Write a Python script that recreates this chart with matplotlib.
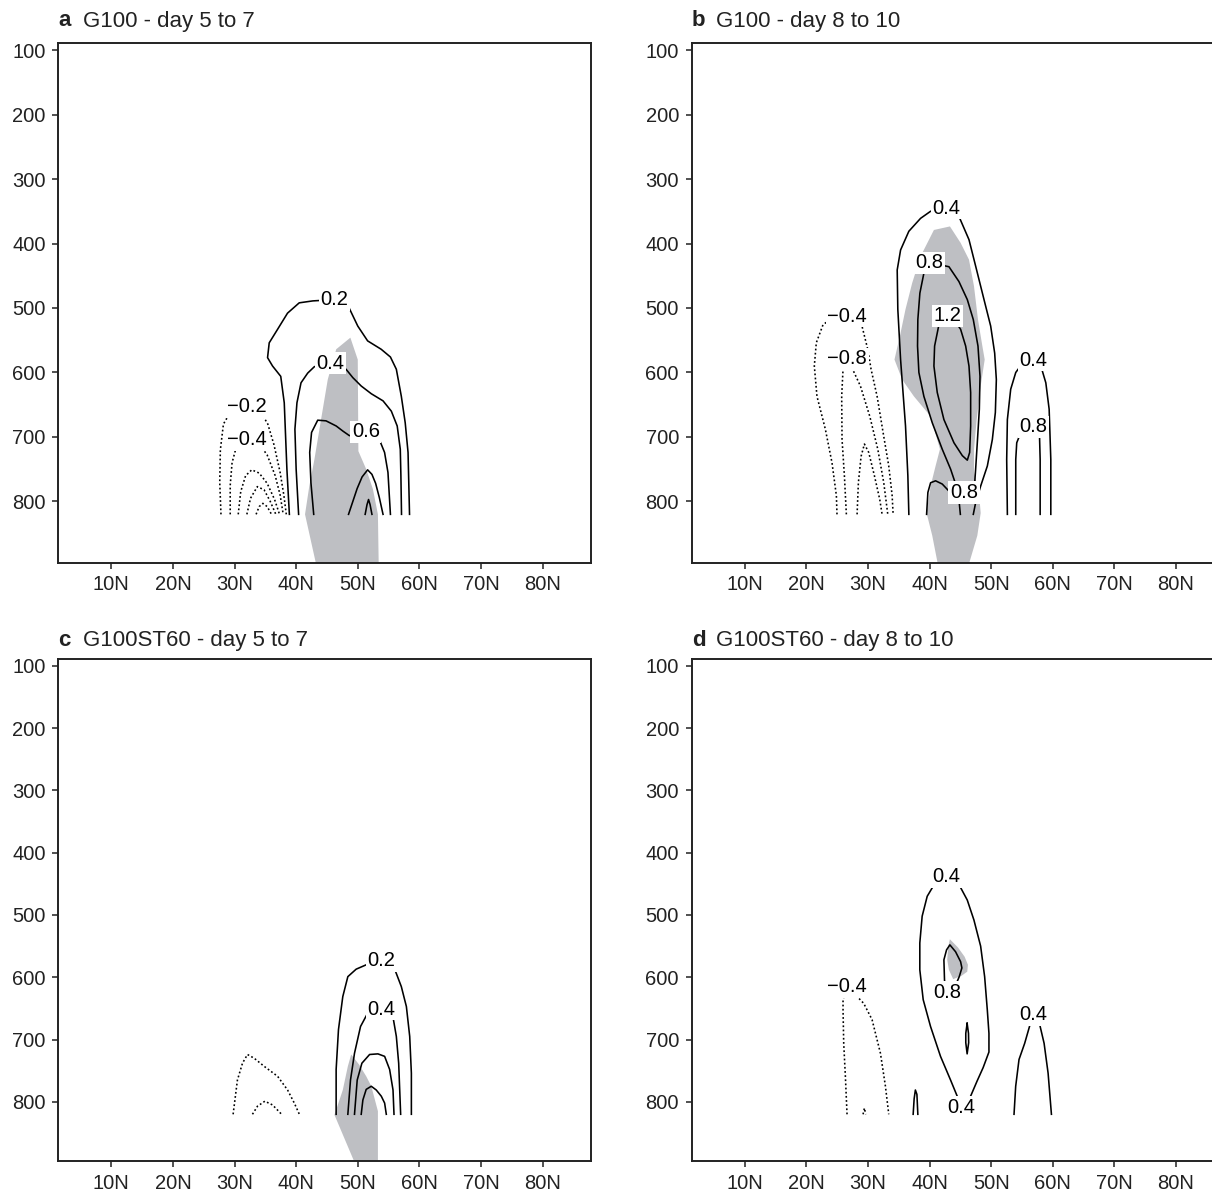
import matplotlib
matplotlib.use("Agg")
import matplotlib.pyplot as plt

plt.rcParams['font.family'] = ['Liberation Sans', 'DejaVu Sans']

# ---------------- common axes data ----------------
LAT_TICKS = [10, 20, 30, 40, 50, 60, 70, 80]
LAT_LABELS = ['10N', '20N', '30N', '40N', '50N', '60N', '70N', '80N']
P_TICKS = [100, 200, 300, 400, 500, 600, 700, 800]
XLIM = (1.4, 87.9)
YLIM = (895, 89.5)
M = '\u2212'

# ---------------- panel a : G100 day 5 to 7 ----------------
A_TITLE = ('a', 'G100 - day 5 to 7')
A_SHADE_LAT = [48.8, 46.5, 45.13, 44.04, 42.96, 42.14, 41.44, 43.3, 53.4, 53.27, 52.46, 51.37, 50.1, 50.0]
A_SHADE_P = [546, 564, 611, 673, 735, 776, 820, 900, 900, 820, 781, 750, 722, 580]
A_LINES = [
    (0.2, [38.9, 38.5, 38.07, 37.5, 36.17, 35.36, 35.63, 36.99, 38.6, 40.5, 42.7, 46.2, 48.6, 50.0,
           51.6, 53.8, 55.3, 56.26, 57.07, 57.7, 58.16, 58.4],
          [820, 750, 647, 606, 590, 577, 554, 533, 508, 492, 489, 487, 500, 528,
           551, 564, 576, 595, 637, 678, 724, 820]),
    (0.4, [40.4, 40.0, 39.8, 40.13, 40.79, 41.87, 42.96, 45.6, 48.1, 49.2, 50.56, 52.2, 54.1, 55.45,
           56.4, 56.9, 57.0, 57.1],
          [820, 750, 688, 647, 616, 601, 591, 585.5, 595, 608, 621, 633, 644, 660,
           683, 719, 760, 820]),
    (0.6, [42.85, 42.4, 42.2, 42.5, 43.5, 44.85, 46.5, 47.6, 48.65, 51.3, 53.5, 54.35, 54.9, 55.3],
          [820, 771, 724, 693, 674, 675, 683, 691, 698, 692, 704, 724, 755, 820]),
    (0.8, [48.5, 49.2, 49.9, 50.7, 51.6, 52.3, 52.9, 53.5, 54.1],
          [820, 800, 780, 762, 751, 758, 772, 794, 820]),
    (1.0, [51.2, 51.5, 51.75, 52.0, 52.3],
          [820, 805, 797, 805, 820]),
    (-0.2, [27.8, 27.6, 27.7, 28.2, 29.3, 31.94, 34.3, 35.4, 36.4, 37.4, 38.0, 38.4],
           [820, 770, 720, 680, 662, 653, 662, 680, 712, 755, 790, 820]),
    (-0.4, [29.3, 29.3, 29.6, 30.3, 31.94, 33.8, 35.3, 36.6, 37.4, 37.9],
           [820, 775, 740, 715, 704, 708, 728, 760, 790, 820]),
    (-0.6, [30.6, 31.0, 31.8, 32.8, 34.0, 35.3, 36.5, 37.3],
           [820, 785, 760, 751, 756, 772, 797, 820]),
    (-0.8, [32.0, 32.6, 33.7, 34.8, 35.8, 36.7],
           [820, 795, 777, 782, 800, 820]),
    (-1.0, [33.5, 34.0, 34.6, 35.3, 36.0],
           [820, 808, 803, 808, 820]),
]
A_LABELS = [('0.2', 46.2, 487), ('0.4', 45.6, 585.5), ('0.6', 51.3, 692),
            (M + '0.2', 31.94, 653), (M + '0.4', 31.94, 704)]

# ---------------- panel b : G100 day 8 to 10 ----------------
B_TITLE = ('b', 'G100 - day 8 to 10')
B_SHADE_LAT = [40.71, 43.31, 45.04, 46.4, 47.21, 47.86, 48.57, 48.95, 48.3, 47.65, 47.21, 47.21, 48.02,
               48.3, 47.75, 46.3, 41.4, 40.44, 39.52, 40.17, 40.98, 41.69, 40.17, 37.46, 35.56, 34.31,
               35.29, 36.1, 37.19, 38.54]
B_SHADE_P = [379, 373.5, 399, 425, 466, 518, 559, 580, 621, 673, 719, 755, 786,
             818, 853, 900, 900, 853, 818, 776, 745, 719, 668, 637, 611, 580,
             539, 502, 461, 420]
B_LINES = [
    (0.4, [36.64, 36.48, 36.1, 35.3, 34.85, 34.75, 35.3, 36.64, 38.54, 40.17, 42.7, 44.77, 46.4, 47.48,
           48.84, 49.92, 50.57, 50.84, 50.68, 50.19, 49.38, 48.3, 47.48, 47.1],
          [820, 760, 683, 580, 502, 441, 410, 381, 361, 350, 345, 358, 394, 435,
           487, 528, 570, 611, 662, 704, 745, 776, 802, 820]),
    (0.8, [40.17, 43.15, 44.77, 46.13, 47.1, 47.86, 48.19, 48.08, 47.75, 47.48, 47.3, 46.7, 45.8, 45.0,
           44.23, 43.42, 42.06, 40.44, 39.08, 38.27, 38.05, 38.1, 38.43, 39.08, 40.17],
          [430, 436, 459, 487, 518, 559, 606, 657, 709, 750, 775, 788, 793, 788,
           773, 750, 719, 678, 637, 600, 559, 518, 477, 446, 430]),
    (1.2, [42.85, 41.52, 40.82, 40.71, 41.25, 42.33, 43.96, 45.32, 46.13, 46.51, 46.67, 46.67, 46.4,
           45.86, 45.04, 43.96, 42.85],
          [512, 526, 559, 590, 631, 673, 709, 729, 736, 724, 683, 631, 590,
           559, 533, 518, 512]),
    (0.8, [39.52, 39.73, 40.17, 40.98, 42.06, 43.15, 44.3, 44.8, 45.0],
          [820, 786, 771, 768, 773, 784, 790, 800, 820]),
    (0.4, [52.63, 52.52, 52.63, 53.17, 53.99, 55.07, 56.85, 58.16, 58.87, 59.41, 59.68, 59.68],
          [820, 735, 673, 626, 600, 586, 581, 593, 616, 657, 735, 820]),
    (0.8, [53.99, 53.99, 54.15, 54.69, 56.85, 57.84, 57.95, 57.95],
          [820, 735, 709, 696, 684, 696, 735, 820]),
    (-0.4, [24.98, 24.88, 24.17, 23.09, 21.73, 21.3, 21.62, 22.71, 24.44, 26.61, 28.78, 29.32, 29.97,
            30.51, 31.49, 32.46, 33.38, 33.93, 34.09],
           [820, 791, 740, 688, 637, 590, 554, 526, 514, 513, 518, 539, 564,
            595, 637, 693, 745, 791, 820]),
    (-0.8, [26.5, 26.18, 25.8, 25.74, 25.96, 26.61, 27.42, 28.78, 30.3, 31.6, 32.57, 33.22],
           [820, 760, 704, 637, 595, 579, 593, 621, 668, 719, 771, 820]),
    (-1.2, [28.24, 28.45, 28.89, 29.43, 30.13, 31.05, 31.92, 32.3],
           [820, 771, 730, 711, 724, 760, 797, 820]),
]
B_LABELS = [('0.4', 42.7, 345), ('0.8', 40.0, 430), ('1.2', 42.85, 512), ('0.8', 45.6, 786),
            ('0.4', 56.85, 581), ('0.8', 56.85, 684),
            (M + '0.4', 26.61, 513), (M + '0.8', 26.61, 579)]

# ---------------- panel c : G100ST60 day 5 to 7 ----------------
C_TITLE = ('c', 'G100ST60 - day 5 to 7')
C_SHADE_LAT = [48.93, 50.2, 51.37, 52.2, 53.27, 53.27, 49.6, 46.22, 47.57, 48.39]
C_SHADE_P = [724, 740, 759, 775, 815, 900, 900, 821, 781, 743]
C_LINES = [
    (0.2, [46.49, 46.49, 46.87, 47.57, 48.39, 49.74, 51.37, 53.82, 55.99, 57.07, 57.89, 58.43, 58.7, 58.7],
          [820, 748, 684, 631, 599, 587, 580, 573, 587, 615, 647, 695, 754, 820]),
    (0.4, [48.39, 48.82, 49.47, 50.45, 51.48, 53.82, 55.72, 56.26, 56.64, 56.96],
          [820, 765, 722, 679, 660, 651, 664, 695, 738, 820]),
    (0.6, [49.47, 49.91, 50.67, 51.92, 53.27, 54.36, 55.17, 55.72, 55.88],
          [820, 765, 738, 724, 723, 727, 748, 781, 820]),
    (0.8, [50.56, 50.83, 51.37, 52.19, 53.0, 53.82, 54.36, 54.63],
          [820, 797, 780, 775, 781, 791, 802, 820]),
    (-0.2, [29.77, 30.47, 31.29, 32.1, 33.19, 34.81, 36.99, 38.61, 39.7, 40.52],
           [820, 765, 738, 724, 730, 743, 759, 781, 802, 820]),
    (-0.4, [32.91, 33.73, 34.92, 36.17, 37.64],
           [820, 807, 799, 805, 820]),
]
C_LABELS = [('0.2', 53.82, 573), ('0.4', 53.82, 651)]

# ---------------- panel d : G100ST60 day 8 to 10 ----------------
D_TITLE = ('d', 'G100ST60 - day 8 to 10')
D_SHADE_LAT = [43.3, 44.6, 45.69, 46.23, 46.12, 45.14, 43.84, 43.14, 42.87, 43.03]
D_SHADE_P = [539, 552, 567, 580, 591, 598, 603, 588, 572, 551]
D_LINES = [
    (0.4, [42.71, 44.93, 46.12, 47.2, 48.29, 48.94, 49.37, 49.64, 49.64, 48.7, 47.7, 46.66, 45.2,
           44.49, 43.41, 41.78, 40.16, 38.97, 38.42, 38.42, 38.8, 39.62, 40.7, 42.71],
          [439, 454, 476, 508, 550, 599, 652, 690, 720, 745, 767, 791, 809,
           791, 765, 727, 679, 636, 588, 545, 502, 470, 452, 439]),
    (0.8, [42.87, 42.43, 42.33, 42.76, 43.3, 44.22, 45.04, 45.25, 44.82, 44.39, 42.87],
          [624, 605, 572, 556, 548, 559, 575, 585, 599, 609, 624]),
    (0.8, [46.1, 46.32, 46.35, 46.1, 45.88, 45.88, 46.1],
          [674, 690, 705, 723, 705, 690, 674]),
    (0.4, [37.34, 37.5, 37.7, 37.95, 38.1],
          [820, 795, 781, 788, 820]),
    (0.4, [53.71, 53.98, 54.52, 55.44, 56.31, 56.85, 57.83, 58.59, 59.24, 59.78],
          [820, 775, 732, 706, 676, 660, 674, 706, 754, 820]),
    (-0.4, [26.61, 26.34, 26.07, 25.96, 25.96, 26.61, 27.96, 29.32, 30.67, 32.03, 32.84, 33.38],
           [820, 759, 706, 652, 636, 615, 628, 642, 668, 722, 775, 820]),
    (-0.4, [29.21, 29.43, 29.64],
           [820, 810, 820]),
]
D_LABELS = [('0.4', 42.71, 439), ('0.8', 42.87, 624), ('0.4', 45.2, 809),
            ('0.4', 56.85, 660), (M + '0.4', 26.61, 615)]

# ---------------- drawing ----------------
W, H = 1212, 1195
fig = plt.figure(figsize=(W / 100, H / 100), dpi=100)
TXT = '#222222'
SHADE = '#bebfc3'

# axes boxes in pixels: left, top, width, height
BOXES = {
    'a': (58.3, 43.3, 533, 519.4),
    'b': (691.7, 43.3, 533, 519.4),
    'c': (58.3, 659.3, 533, 501.7),
    'd': (691.7, 659.3, 533, 501.7),
}
TITLE_BASE = {'a': 26.5, 'b': 26.5, 'c': 646, 'd': 646}

panels = [
    ('a', A_TITLE, A_SHADE_LAT, A_SHADE_P, A_LINES, A_LABELS),
    ('b', B_TITLE, B_SHADE_LAT, B_SHADE_P, B_LINES, B_LABELS),
    ('c', C_TITLE, C_SHADE_LAT, C_SHADE_P, C_LINES, C_LABELS),
    ('d', D_TITLE, D_SHADE_LAT, D_SHADE_P, D_LINES, D_LABELS),
]

for key, title, slat, sp, lines, labels in panels:
    l, t, w, h = BOXES[key]
    ax = fig.add_axes([l / W, 1 - (t + h) / H, w / W, h / H])
    ax.set_xlim(*XLIM)
    ax.set_ylim(*YLIM)
    ax.fill(slat, sp, color=SHADE, lw=0, zorder=1)
    for lev, lats, ps in lines:
        if lev < 0:
            ax.plot(lats, ps, color='black', lw=1.15, ls=(0, (1.1, 1.5)), zorder=2)
        else:
            ax.plot(lats, ps, color='black', lw=1.15, ls='-', zorder=2)
    for s, la, pp in labels:
        ax.text(la, pp, s, ha='center', va='center', fontsize=14.5, color='black', zorder=4,
                bbox=dict(boxstyle='square,pad=0.08', fc='white', ec='none'))
    ax.set_xticks(LAT_TICKS, LAT_LABELS)
    ax.set_yticks(P_TICKS)
    ax.tick_params(direction='out', length=4.2, width=1.1, labelsize=14.5, pad=5,
                   colors=TXT)
    for sp_ in ax.spines.values():
        sp_.set_linewidth(1.4)
        sp_.set_color(TXT)
    # title
    fig.text(l / W, 1 - TITLE_BASE[key] / H, title[0], fontsize=16, fontweight='bold',
             color=TXT, ha='left', va='baseline')
    fig.text((l + 24.4) / W, 1 - TITLE_BASE[key] / H, title[1], fontsize=16,
             color=TXT, ha='left', va='baseline')

fig.savefig('out.png', dpi=100)
